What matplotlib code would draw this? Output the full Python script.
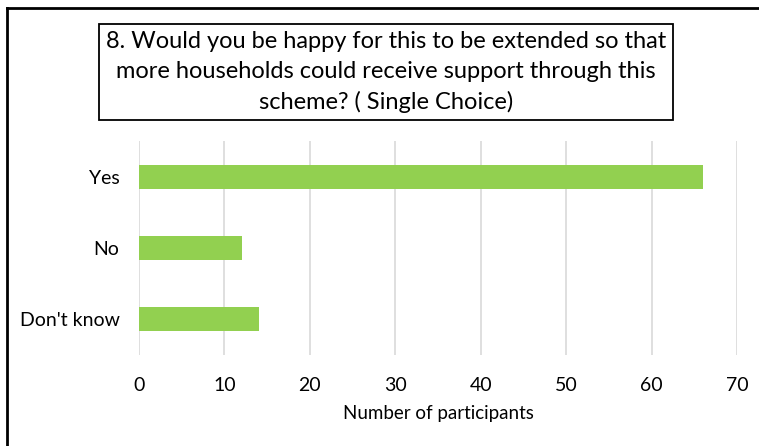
import numpy as np
import matplotlib
matplotlib.use('Agg')
from matplotlib import pyplot as plt
from matplotlib.lines import Line2D

answers = ['Yes', 'No', "Don't know"]
counts = [66, 12, 14]
xticks = [0, 10, 20, 30, 40, 50, 60, 70]

title = ('8. Would you be happy for this to be extended so that\n'
         'more households could receive support through this\n'
         'scheme? ( Single Choice)')

plt.rcParams['font.family'] = ['Lato', 'DejaVu Sans']

fig = plt.figure(figsize=(7.59, 4.46), dpi=100)
ax = fig.add_axes([139/759, 1 - 355/446, (737 - 139)/759, (355 - 141)/446])

y = np.arange(len(answers))[::-1]
ax.barh(y, counts, height=0.34, color='#92D050', zorder=3)

ax.set_xlim(0, 70)
ax.set_ylim(-0.5, len(answers) - 0.5)
ax.set_xticks(xticks)
ax.set_yticks(y)
ax.set_yticklabels(answers)
ax.tick_params(axis='both', length=0, labelsize=14, colors='#000000')
ax.tick_params(axis='y', pad=14)
ax.tick_params(axis='x', pad=16)
ax.xaxis.grid(True, color='#d9d9d9', lw=1.2, zorder=0)
for s in ax.spines.values():
    s.set_visible(False)

ax.set_xlabel('Number of participants', fontsize=13.5, labelpad=8)

# boxed title
fig.text(386/759, 1 - 72/446, title, ha='center', va='center', fontsize=17,
         linespacing=1.52,
         bbox=dict(boxstyle='square,pad=0.3', fc='white', ec='black', lw=1.3))

# outer frame (top and left edges)
fig.add_artist(Line2D([7/759, 7/759], [0, 1 - 8/446], color='black', lw=2))
fig.add_artist(Line2D([7/759, 1], [1 - 8/446, 1 - 8/446], color='black', lw=2))

fig.savefig('out.png', dpi=100)
